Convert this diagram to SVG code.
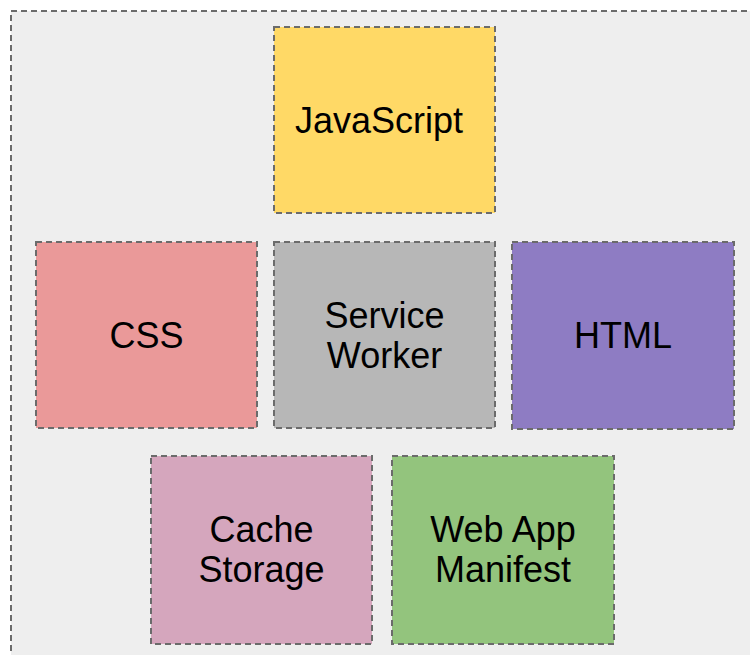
<svg xmlns="http://www.w3.org/2000/svg" width="750" height="655" viewBox="0 0 750 655">
<style>
.box{stroke:#6b6b6b;stroke-width:2;stroke-dasharray:6 4}
.lbl{font-family:"Liberation Sans",Arial,sans-serif;font-size:36px;fill:#000;text-anchor:middle}
</style>
<rect width="750" height="655" fill="#ffffff"/>
<g id="container">
<rect x="11" y="11" width="770" height="680" fill="#eeeeee" class="box"/>
</g>
<g id="connectors"></g>
<g id="javascript">
<rect x="274" y="27" width="221" height="186" fill="#ffd966" class="box"/>
<text class="lbl" x="379" y="132.5">JavaScript</text>
</g>
<g id="css">
<rect x="36" y="242" width="221" height="186" fill="#ea9999" class="box"/>
<text class="lbl" x="146.5" y="347.5">CSS</text>
</g>
<g id="service-worker">
<rect x="274" y="242" width="221" height="186" fill="#b7b7b7" class="box"/>
<text class="lbl" x="384.5" y="327.5">Service</text>
<text class="lbl" x="384.5" y="367.5">Worker</text>
</g>
<g id="html">
<rect x="512" y="242" width="222" height="187" fill="#8e7cc3" class="box"/>
<text class="lbl" x="623" y="347.5">HTML</text>
</g>
<g id="cache-storage">
<rect x="151" y="456" width="221" height="188" fill="#d5a6bd" class="box"/>
<text class="lbl" x="261.5" y="542">Cache</text>
<text class="lbl" x="261.5" y="582">Storage</text>
</g>
<g id="web-app-manifest">
<rect x="392" y="456" width="222" height="188" fill="#93c47d" class="box"/>
<text class="lbl" x="503" y="542">Web App</text>
<text class="lbl" x="503" y="582">Manifest</text>
</g>
</svg>
